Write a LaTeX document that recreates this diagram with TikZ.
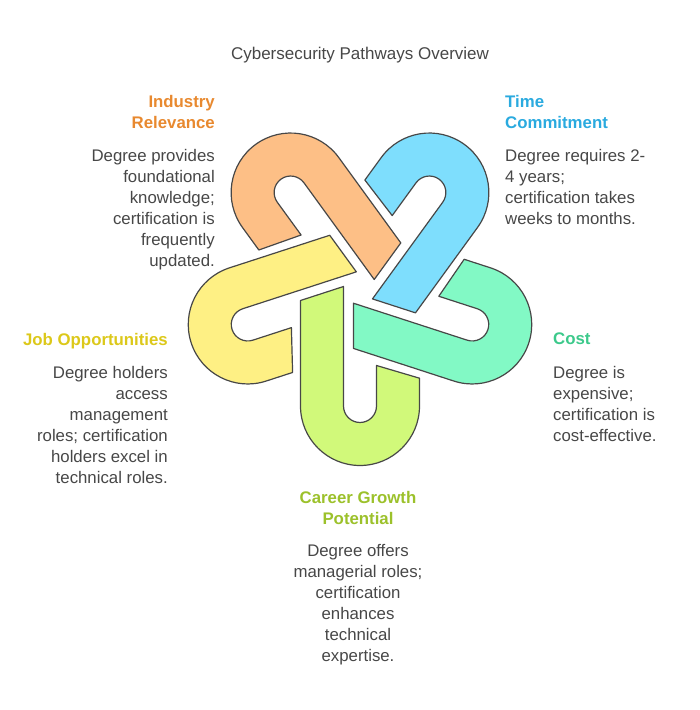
\documentclass[tikz,border=0pt]{standalone}
\usepackage{fontspec}
\setmainfont{Liberation Sans}
\usetikzlibrary{calc}
\begin{document}
\begin{tikzpicture}[x=1pt,y=1pt,
  link/.style={draw=black!72,line width=1.2pt,line join=round},
  body/.style={inner sep=0pt,font=\fontsize{16.8}{21}\selectfont,text=black!72},
  head/.style={inner sep=0pt,font=\fontsize{16.8}{21}\selectfont\bfseries}]
\useasboundingbox (0,0) rectangle (700,710);
\definecolor{cO}{HTML}{FDBF86}\definecolor{cB}{HTML}{7EDEFD}\definecolor{cT}{HTML}{82F9C5}
\definecolor{cG}{HTML}{D1F97A}\definecolor{cY}{HTML}{FEF084}
\definecolor{tO}{HTML}{E8892F}\definecolor{tB}{HTML}{2AAADF}\definecolor{tT}{HTML}{3CC98B}
\definecolor{tG}{HTML}{9CC12B}\definecolor{tY}{HTML}{DCC81A}
\coordinate (C) at (360,422);
\foreach \k/\c in {0/cG,1/cT,2/cB,3/cO,4/cY}{
  \pgfmathsetmacro{\th}{270+72*\k}
  \begin{scope}[shift={($(C)+(\th:118)$)},rotate=72*\k]
    \fill[\c] (-59.5,105.5) -- (-59.5,0) arc (180:360:59.5) -- (59.5,27.8) -- (16.5,40.5) -- (16.5,0)
      arc (0:-180:16.5) -- (-16.5,119.5) -- cycle;
    \draw[link] (-59.5,105.5) -- (-59.5,0) arc (180:360:59.5) -- (59.5,27.8) -- (16.5,40.5) -- (16.5,0)
      arc (0:-180:16.5) -- (-16.5,119.5) -- cycle;
  \end{scope}}
\node[inner sep=0pt,font=\fontsize{17}{20}\selectfont,text=black!72] (title) at (360,655) {Cybersecurity Pathways Overview};
\node[head,text=tO,align=right,anchor=north east] (h1) at (215,615) {Industry\\Relevance};
\node[body,align=right,anchor=north east] (b1) at (215,561) {Degree provides\\foundational\\knowledge;\\certification is\\frequently\\updated.};
\node[head,text=tB,align=left,anchor=north west] (h2) at (505,615) {Time\\Commitment};
\node[body,align=left,anchor=north west] (b2) at (505,561) {Degree requires 2-\\4 years;\\certification takes\\weeks to months.};
\node[head,text=tT,align=left,anchor=north west] (h3) at (553,377) {Cost};
\node[body,align=left,anchor=north west] (b3) at (553,344) {Degree is\\expensive;\\certification is\\cost-effective.};
\node[head,text=tY,align=right,anchor=north east] (h4) at (168,377) {Job Opportunities};
\node[body,align=right,anchor=north east] (b4) at (168,344) {Degree holders\\access\\management\\roles; certification\\holders excel in\\technical roles.};
\node[head,text=tG,align=center,anchor=north] (h5) at (358,219) {Career Growth\\Potential};
\node[body,align=center,anchor=north] (b5) at (358,166) {Degree offers\\managerial roles;\\certification\\enhances\\technical\\expertise.};
\end{tikzpicture}
\end{document}
